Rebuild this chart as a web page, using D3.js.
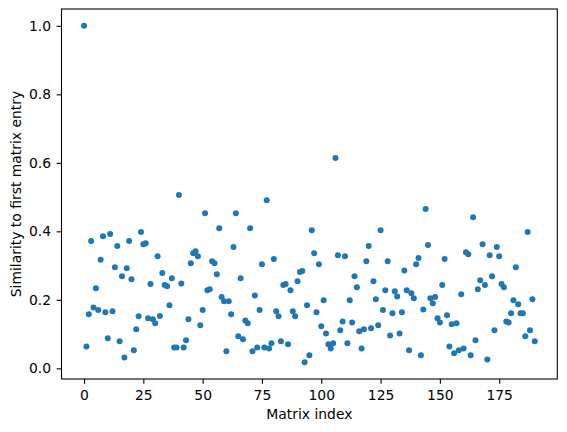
<!DOCTYPE html>
<html>
<head>
<meta charset="utf-8">
<script src="https://cdn.jsdelivr.net/npm/d3@7"></script>
<style>
  body { margin: 0; background: #fff; }
  svg { display: block; font-family: 'DejaVu Sans', sans-serif; }
</style>
</head>
<body>
<svg id="chart" width="567" height="432"></svg>
<script>
// similarity of every matrix entry to the first one (index = position)
var similarity = [
  1.0, 0.064, 0.158, 0.372, 0.178, 0.234, 0.170, 0.317, 0.386, 0.164,
  0.088, 0.392, 0.167, 0.295, 0.357, 0.079, 0.269, 0.032, 0.292, 0.372,
  0.260, 0.053, 0.114, 0.152, 0.398, 0.362, 0.365, 0.146, 0.246, 0.143,
  0.132, 0.327, 0.153, 0.278, 0.243, 0.240, 0.184, 0.263, 0.061, 0.061,
  0.506, 0.248, 0.061, 0.082, 0.143, 0.307, 0.336, 0.342, 0.327, 0.126,
  0.170, 0.453, 0.228, 0.231, 0.313, 0.307, 0.275, 0.409, 0.208, 0.196,
  0.050, 0.196, 0.158, 0.354, 0.453, 0.094, 0.263, 0.085, 0.140, 0.132,
  0.409, 0.050, 0.213, 0.061, 0.170, 0.304, 0.061, 0.491, 0.058, 0.073,
  0.319, 0.167, 0.152, 0.079, 0.243, 0.246, 0.070, 0.228, 0.167, 0.152,
  0.254, 0.281, 0.284, 0.018, 0.184, 0.038, 0.403, 0.336, 0.164, 0.304,
  0.123, 0.199, 0.102, 0.070, 0.058, 0.073, 0.614, 0.330, 0.111, 0.137,
  0.327, 0.073, 0.199, 0.134, 0.269, 0.237, 0.108, 0.058, 0.114, 0.313,
  0.357, 0.117, 0.254, 0.202, 0.126, 0.403, 0.170, 0.228, 0.313, 0.096,
  0.161, 0.225, 0.210, 0.102, 0.164, 0.286, 0.228, 0.053, 0.219, 0.205,
  0.304, 0.322, 0.038, 0.172, 0.465, 0.360, 0.205, 0.190, 0.208, 0.146,
  0.134, 0.243, 0.319, 0.155, 0.064, 0.129, 0.044, 0.132, 0.053, 0.216,
  0.058, 0.339, 0.333, 0.038, 0.441, 0.082, 0.231, 0.257, 0.362, 0.243,
  0.026, 0.330, 0.269, 0.111, 0.354, 0.327, 0.246, 0.237, 0.137, 0.134,
  0.161, 0.199, 0.295, 0.187, 0.161, 0.161, 0.094, 0.398, 0.111, 0.202,
  0.079
];
var xTicks = [0, 25, 50, 75, 100, 125, 150, 175];
var yTicks = [0.0, 0.2, 0.4, 0.6, 0.8, 1.0];

var svg = d3.select('#chart');
var plotLeft = 61.5, plotRight = 557.3, plotTop = 9, plotBottom = 379;
var fontSize = 13.9, tickLen = 4.86;

// matplotlib style 5% margins
var n = similarity.length - 1;
var x = d3.scaleLinear().domain([-0.05 * n, 1.05 * n]).range([plotLeft, plotRight]);
var ymin = d3.min(similarity), ymax = d3.max(similarity);
var ypad = (ymax - ymin) * 0.05;
var y = d3.scaleLinear().domain([ymin - ypad, ymax + ypad]).range([plotBottom, plotTop]);

var xAxis = svg.append('g')
  .attr('transform', 'translate(0,' + plotBottom + ')')
  .call(d3.axisBottom(x).tickValues(xTicks).tickFormat(d3.format('d'))
    .tickSize(tickLen).tickSizeOuter(0));
xAxis.selectAll('text').attr('y', 11.2);

var yAxis = svg.append('g')
  .attr('transform', 'translate(' + plotLeft + ',0)')
  .call(d3.axisLeft(y).tickValues(yTicks).tickFormat(d3.format('.1f'))
    .tickSize(tickLen).tickSizeOuter(0).tickPadding(5.6));

svg.selectAll('.domain').remove();
svg.selectAll('.tick line').attr('stroke', '#000').attr('stroke-width', 1.1);
svg.selectAll('.tick text')
  .attr('fill', '#000')
  .style('font-family', 'DejaVu Sans')
  .style('font-size', fontSize + 'px');

svg.append('g')
  .selectAll('circle')
  .data(similarity)
  .join('circle')
  .attr('cx', function(d, i) { return x(i); })
  .attr('cy', function(d) { return y(d); })
  .attr('r', 3)
  .attr('fill', '#1f77b4');

svg.append('rect')
  .attr('x', plotLeft).attr('y', plotTop)
  .attr('width', plotRight - plotLeft).attr('height', plotBottom - plotTop)
  .attr('fill', 'none').attr('stroke', '#000').attr('stroke-width', 1.1);

svg.append('text')
  .attr('x', (plotLeft + plotRight) / 2).attr('y', 419)
  .attr('text-anchor', 'middle')
  .style('font-size', fontSize + 'px')
  .text('Matrix index');

svg.append('text')
  .attr('transform', 'translate(20.5,' + (plotTop + plotBottom) / 2 + ') rotate(-90)')
  .attr('text-anchor', 'middle')
  .style('font-size', fontSize + 'px')
  .text('Similarity to first matrix entry');
</script>
</body>
</html>
